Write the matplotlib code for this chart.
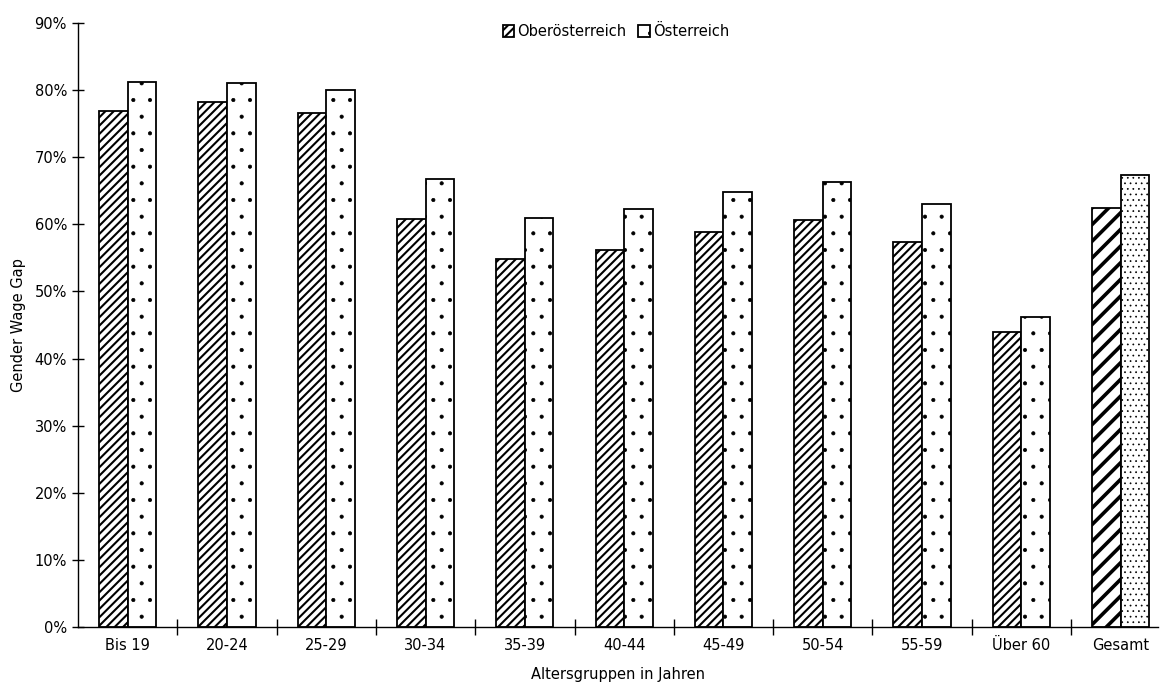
import matplotlib
matplotlib.use('Agg')
import matplotlib.pyplot as plt
import numpy as np

# data (percent)
categories = ['Bis 19', '20-24', '25-29', '30-34', '35-39', '40-44',
              '45-49', '50-54', '55-59', 'Über 60', 'Gesamt']
ooe = [76.9, 78.3, 76.6, 60.8, 54.8, 56.2, 58.8, 60.6, 57.4, 44.0, 62.4]
oe = [81.2, 81.1, 80.0, 66.8, 61.0, 62.3, 64.8, 66.3, 63.1, 46.2, 67.4]
yticks = [0, 10, 20, 30, 40, 50, 60, 70, 80, 90]


def set_hlw(patch, lw):
    # per-patch hatch linewidth (matplotlib >= 3.10)
    try:
        patch.set_hatch_linewidth(lw)
    except AttributeError:
        pass


def main():
    plt.rcParams['font.family'] = 'DejaVu Sans'
    plt.rcParams['hatch.linewidth'] = 1.5

    fig = plt.figure(figsize=(11.61, 6.82), dpi=100)
    ax = fig.add_axes([78 / 1161, 55 / 682, 1080 / 1161, 604 / 682])

    x = np.arange(len(categories))
    w = 0.288

    b1 = ax.bar(x - w / 2, ooe, w, color='white', edgecolor='black',
                linewidth=1.3, hatch='////', label='Oberösterreich')
    b2 = ax.bar(x + w / 2, oe, w, color='white', edgecolor='black',
                linewidth=1.3, hatch='.', label='Österreich')
    for p in b2:
        set_hlw(p, 0.5)

    # the "Gesamt" pair uses coarser stripes and denser dots
    b1[-1].set_hatch('//')
    set_hlw(b1[-1], 2.6)
    b2[-1].set_hatch('...')
    set_hlw(b2[-1], 0.5)

    ax.set_xlim(-0.5, -0.5 + 1080 / 99.3)
    ax.set_ylim(0, 90)

    ax.spines['top'].set_visible(False)
    ax.spines['right'].set_visible(False)
    ax.spines['left'].set_linewidth(1.0)
    ax.spines['bottom'].set_linewidth(1.0)

    ax.set_yticks(yticks)
    ax.set_yticklabels([f'{t}%' for t in yticks])
    ax.tick_params(axis='y', direction='inout', length=8, width=1,
                   labelsize=10.5, pad=4)

    ax.set_xticks(x)
    ax.set_xticklabels(categories)
    ax.set_xticks(np.arange(len(categories) - 1) + 0.5, minor=True)
    ax.tick_params(axis='x', which='major', length=0, labelsize=10.5, pad=8)
    ax.tick_params(axis='x', which='minor', direction='inout', length=12,
                   width=1)

    ax.set_xlabel('Altersgruppen in Jahren', fontsize=10.5, labelpad=10)
    ax.set_ylabel('Gender Wage Gap', fontsize=10.5, labelpad=6)

    leg = ax.legend(loc='upper center', bbox_to_anchor=(0.498, 1.02), ncol=2,
                    frameon=False, fontsize=10.5, handlelength=0.8,
                    handleheight=0.8, handletextpad=0.2, columnspacing=0.8)
    set_hlw(leg.legend_handles[1], 0.5)

    fig.savefig('out.png', dpi=100)


if __name__ == '__main__':
    main()
